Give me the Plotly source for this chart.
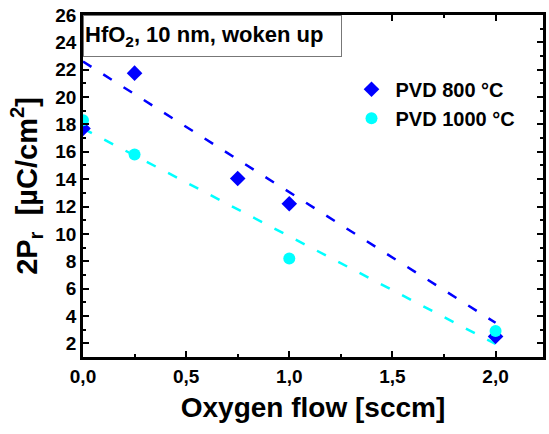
import plotly.graph_objects as go

# Data
x_800 = [0.0, 0.25, 0.75, 1.0, 2.0]
y_800 = [17.7, 21.75, 14.05, 12.2, 2.5]
x_1000 = [0.0, 0.25, 1.0, 2.0]
y_1000 = [18.3, 15.8, 8.2, 2.9]
fit_x = [0.0, 2.0]
fit_800 = [22.6, 3.5]
fit_1000 = [17.7, 1.95]

FONT = "Liberation Sans"
BLUE = "#0000ff"
CYAN = "#00ffff"

fig = go.Figure()
fig.add_trace(go.Scatter(x=fit_x, y=fit_800, mode="lines", showlegend=False,
                         line=dict(color=BLUE, width=2.5, dash="10px,14px"), hoverinfo="skip"))
fig.add_trace(go.Scatter(x=fit_x, y=fit_1000, mode="lines", showlegend=False,
                         line=dict(color=CYAN, width=2.5, dash="10px,14px"), hoverinfo="skip"))
fig.add_trace(go.Scatter(x=x_800, y=y_800, mode="markers", name="PVD 800 °C",
                         marker=dict(symbol="diamond", size=12, color=BLUE)))
fig.add_trace(go.Scatter(x=x_1000, y=y_1000, mode="markers", name="PVD 1000 °C",
                         marker=dict(symbol="circle", size=12, color=CYAN)))

axis_common = dict(
    showgrid=False, zeroline=False, showline=True, linecolor="black", linewidth=2.5,
    mirror="allticks", ticks="inside", ticklen=6, tickwidth=2, tickcolor="black",
    tickfont=dict(family=FONT, size=19, color="black", weight="bold"),
)

fig.update_xaxes(range=[0, 2.23], tickvals=[0, 0.5, 1.0, 1.5, 2.0],
                 ticktext=["0,0", "0,5", "1,0", "1,5", "2,0"],
                 minor=dict(dtick=0.25, tick0=0, ticks="inside", ticklen=3, tickwidth=2, tickcolor="black"),
                 title=dict(text="Oxygen flow [sccm]", standoff=12,
                            font=dict(family=FONT, size=28, color="black", weight="bold")),
                 **axis_common)
fig.update_yaxes(range=[1, 26], tick0=0, dtick=2,
                 minor=dict(dtick=1, tick0=0, ticks="inside", ticklen=3, tickwidth=2, tickcolor="black"),
                 title=dict(text="2P<sub>r</sub>  [µC/cm<sup>2</sup>]", standoff=10,
                            font=dict(family=FONT, size=29, color="black", weight="bold")),
                 **axis_common)

fig.add_annotation(xref="paper", yref="paper", x=0, y=1, xanchor="left", yanchor="top",
                   text="HfO<sub>2</sub>, 10 nm, woken up", showarrow=False,
                   align="left", width=255, height=38, borderwidth=1, bordercolor="#777777",
                   bgcolor="white", borderpad=1,
                   font=dict(family=FONT, size=22, color="black", weight="bold"))

fig.update_layout(
    width=549, height=434,
    margin=dict(l=83, r=3, t=15, b=77),
    paper_bgcolor="white", plot_bgcolor="white",
    legend=dict(x=0.575, y=0.84, xanchor="left", yanchor="top",
                bgcolor="rgba(0,0,0,0)", tracegroupgap=0, itemwidth=38,
                font=dict(family=FONT, size=20, color="black", weight="bold")),
)

fig.write_html("out.html")
